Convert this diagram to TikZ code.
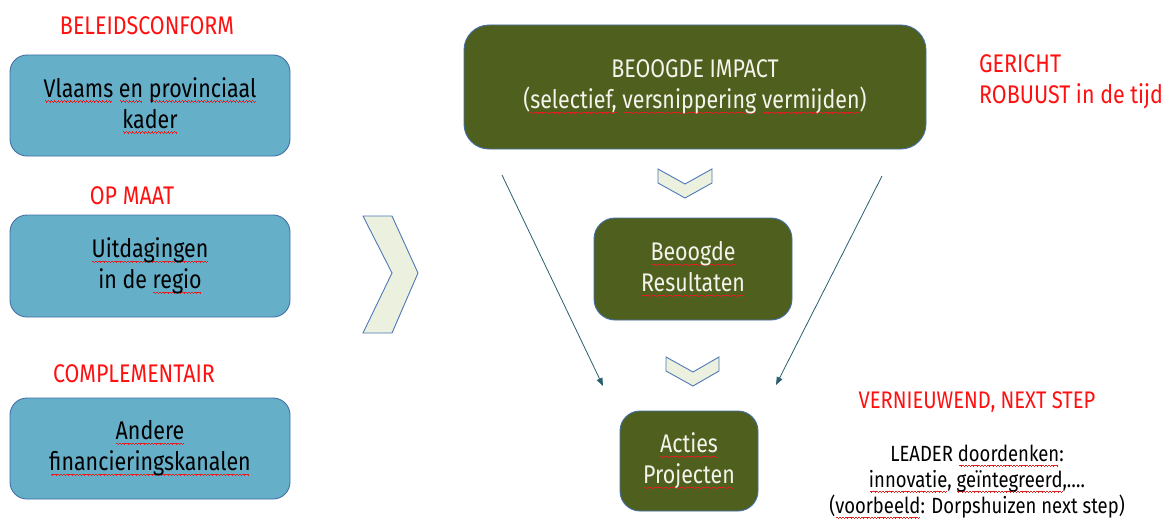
\documentclass[tikz,border=0pt]{standalone}
\usepackage{fontspec}
\setmainfont{Fira Sans}[FakeStretch=0.84]
\usetikzlibrary{arrows.meta}
\definecolor{boxblue}{HTML}{65AFC9}
\definecolor{boxedge}{HTML}{4470A8}
\definecolor{olivefill}{HTML}{4F5F1E}
\definecolor{cream}{HTML}{F4F4EC}
\definecolor{chevfill}{HTML}{EBF1DE}
\definecolor{chevedge}{HTML}{4F78B8}
\definecolor{arrowc}{HTML}{2A5F70}
\definecolor{redtxt}{HTML}{FF1010}
\definecolor{squig}{HTML}{E02020}
\newcommand\wunit{\hbox{\vrule width 0.8pt height -3pt depth 3.8pt\vrule width 0.8pt height -3.6pt depth 4.4pt\vrule width 0.8pt height -4.2pt depth 5pt\vrule width 0.8pt height -3.6pt depth 4.4pt}}
\newcommand\sq[1]{\setbox0\hbox{#1}\rlap{\color{squig}\hbox to \wd0{\cleaders\wunit\hfill}}\box0\relax}
\newcommand\txtbig{\fontsize{25.5}{31}\selectfont}
\newcommand\txtmid{\fontsize{24}{28}\selectfont}
\newcommand\txtsmall{\fontsize{22}{26}\selectfont}
\begin{document}
\begin{tikzpicture}[x=1pt,y=-1pt,
  bluebox/.style={draw=boxedge, line width=0.9pt, fill=boxblue, rounded corners=17pt, align=center, font=\txtbig, text=black, inner sep=0pt},
  olivebox/.style={draw=boxedge, line width=0.9pt, fill=olivefill, align=center, font=\txtbig, text=cream, inner sep=0pt},
  redlabel/.style={text=redtxt, font=\txtbig, inner sep=0pt, anchor=base},
  chev/.style={draw=chevedge, fill=chevfill, line width=0.9pt, line join=miter},
  conn/.style={draw=arrowc, line width=0.8pt, -{Triangle[length=8pt,width=6pt]}}
]
\useasboundingbox (0,0) rectangle (1171,519);
\fill[white] (0,0) rectangle (1171,519);

% left column
\node[redlabel] (l1) at (147,35) {BELEIDSCONFORM};
\node[bluebox, minimum width=280pt, minimum height=101pt] (b1) at (150,105.5)
  {\sq{Vlaams} \sq{en} \sq{provinciaal}\\\sq{kader}};
\node[redlabel] (l2) at (132,204) {OP MAAT};
\node[bluebox, minimum width=280pt, minimum height=102pt] (b2) at (150,266)
  {\sq{Uitdagingen}\\in de \sq{regio}};
\node[redlabel] (l3) at (134,382) {COMPLEMENTAIR};
\node[bluebox, minimum width=280pt, minimum height=101pt] (b3) at (150,448.5)
  {\sq{Andere}\\\sq{financieringskanalen}};

% big chevron
\draw[chev] (363,216) -- (392,216) -- (418,273) -- (392,333) -- (363,333) -- (392,273) -- cycle;

% centre column
\node[olivebox, rounded corners=25pt, minimum width=462pt, minimum height=124pt] (imp) at (695,87)
  {BEOOGDE IMPACT\\(\sq{selectief,} \sq{versnippering} \sq{vermijden})};
\draw[chev] (658,169) -- (685,184) -- (712,169) -- (712,183) -- (685,198) -- (658,183) -- cycle;
\node[olivebox, rounded corners=21pt, minimum width=198pt, minimum height=102pt] (res) at (693,269)
  {\sq{Beoogde}\\\sq{Resultaten}};
\draw[chev] (666,357) -- (693,372) -- (719,357) -- (719,371) -- (693,386) -- (666,371) -- cycle;
\node[olivebox, rounded corners=20pt, minimum width=138pt, minimum height=100pt] (act) at (689,461)
  {\sq{Acties}\\\sq{Projecten}};

% side arrows
\coordinate (la) at (502,175);
\coordinate (lb) at (603,386);
\coordinate (ra) at (882,176);
\coordinate (rb) at (776,385);
\draw[conn] (la) -- (lb);
\draw[conn] (ra) -- (rb);

% right column
\node[redlabel, anchor=base west] (g1) at (979,73) {GERICHT};
\node[redlabel, anchor=base west] (g2) at (979,103) {ROBUUST in de tijd};
\node[redlabel, font=\txtmid] (v1) at (977,408) {VERNIEUWEND, NEXT STEP};
\node[align=center, font=\txtsmall, inner sep=0pt, anchor=north] (lead) at (977,445)
  {LEADER \sq{doordenken}:\\\sq{innovatie}, \sq{geïntegreerd},….\\(\sq{voorbeeld}: Dorpshuizen next step)};
\end{tikzpicture}
\end{document}
